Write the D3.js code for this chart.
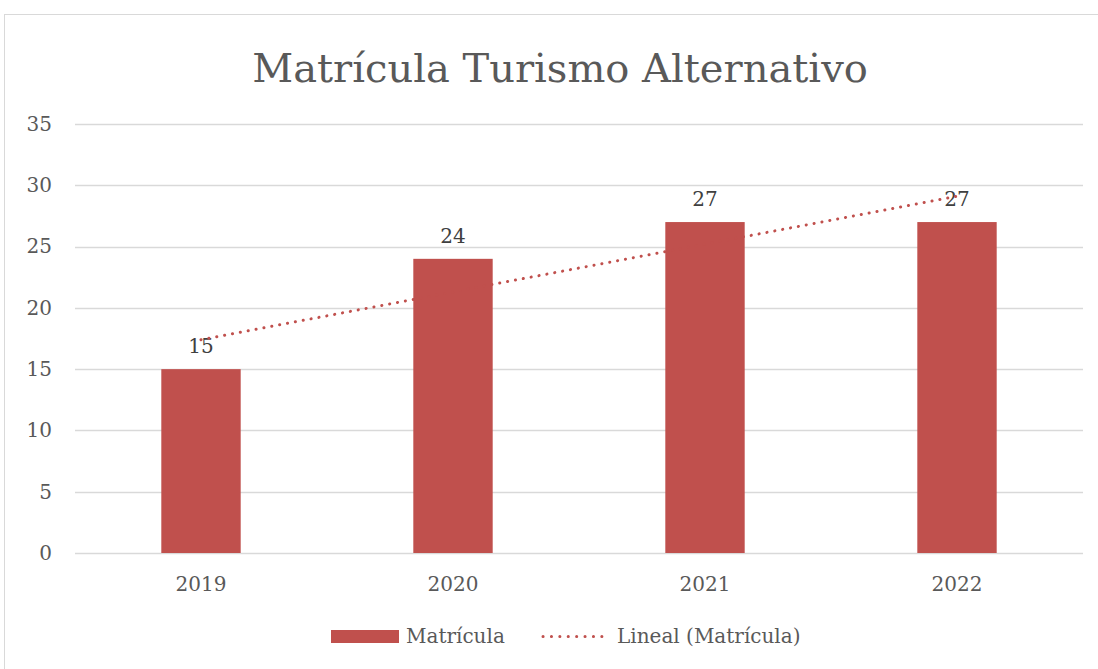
<!DOCTYPE html>
<html lang="es">
<head>
  <meta charset="UTF-8">
  <title>Matrícula Turismo Alternativo</title>
  <style>
    body { margin: 0; background: #fff; }
    svg text { font-family: "DejaVu Serif", serif; fill: #595959; }
  </style>
</head>
<body>
<script src="https://d3js.org/d3.v7.min.js"></script>
<script>
  // Data
  const years = ['2019', '2020', '2021', '2022'];
  const matricula = [15, 24, 27, 27];
  const yTicks = [0, 5, 10, 15, 20, 25, 30, 35];

  const width = 1098;
  const height = 669;
  const plotLeft = 75, plotRight = 1083, plotTop = 124, plotBottom = 553;
  const barColor = '#C0504D';

  const svg = d3.select('body')
    .append('svg')
    .attr('width', width)
    .attr('height', height);

  // Chart frame
  svg.append('rect')
    .attr('x', 4.5).attr('y', 14.5)
    .attr('width', width).attr('height', height)
    .attr('fill', 'none')
    .attr('stroke', '#d9d9d9');

  // Title
  svg.append('text')
    .attr('x', 560).attr('y', 82)
    .attr('text-anchor', 'middle')
    .style('font-size', '40px')
    .text('Matrícula Turismo Alternativo');

  // Scales
  const x = d3.scaleBand()
    .domain(years)
    .range([plotLeft, plotRight])
    .paddingInner(0.685)
    .paddingOuter(0.3425);

  const y = d3.scaleLinear()
    .domain([0, 35])
    .range([plotBottom, plotTop]);

  // Gridlines
  svg.append('g')
    .selectAll('line')
    .data(yTicks)
    .enter()
    .append('line')
    .attr('x1', plotLeft).attr('x2', plotRight)
    .attr('y1', d => Math.round(y(d)) + 0.5)
    .attr('y2', d => Math.round(y(d)) + 0.5)
    .attr('stroke', '#d9d9d9')
    .attr('stroke-width', 1.3);

  // Y axis labels
  const yAxis = d3.axisLeft(y).tickValues(yTicks).tickSize(0).tickPadding(23);
  const gy = svg.append('g')
    .attr('transform', 'translate(' + plotLeft + ',0)')
    .call(yAxis);
  gy.select('.domain').remove();
  gy.selectAll('text')
    .style('font-size', '20px')
    .attr('fill', '#595959');

  // Bars
  svg.selectAll('rect.bar')
    .data(matricula)
    .enter()
    .append('rect')
    .attr('class', 'bar')
    .attr('x', (d, i) => x(years[i]))
    .attr('y', d => y(d))
    .attr('width', x.bandwidth())
    .attr('height', d => y(0) - y(d))
    .attr('fill', barColor);

  // X axis labels
  const xAxis = d3.axisBottom(x).tickSize(0).tickPadding(24);
  const gx = svg.append('g')
    .attr('transform', 'translate(0,' + plotBottom + ')')
    .call(xAxis);
  gx.select('.domain').remove();
  gx.selectAll('text')
    .style('font-size', '20px')
    .attr('fill', '#595959');

  // Data labels
  svg.selectAll('text.label')
    .data(matricula)
    .enter()
    .append('text')
    .attr('class', 'label')
    .attr('x', (d, i) => x(years[i]) + x.bandwidth() / 2)
    .attr('y', d => y(d) - 16)
    .attr('text-anchor', 'middle')
    .style('font-size', '20px')
    .style('fill', '#404040')
    .text(d => d);

  // Linear trendline (least squares on index 1..n)
  const n = matricula.length;
  const xs = d3.range(1, n + 1);
  const mx = d3.mean(xs), my = d3.mean(matricula);
  const slope = d3.sum(xs, (v, i) => (v - mx) * (matricula[i] - my)) / d3.sum(xs, v => (v - mx) * (v - mx));
  const intercept = my - slope * mx;
  const trend = years.map((yr, i) => [x(yr) + x.bandwidth() / 2, y(intercept + slope * (i + 1))]);

  svg.append('path')
    .datum(trend)
    .attr('d', d3.line())
    .attr('fill', 'none')
    .attr('stroke', barColor)
    .attr('stroke-width', 3)
    .attr('stroke-linecap', 'round')
    .attr('stroke-dasharray', '0.1 7.9');

  // Legend
  const legend = svg.append('g');
  legend.append('rect')
    .attr('x', 331).attr('y', 630)
    .attr('width', 68).attr('height', 13)
    .attr('fill', barColor);
  legend.append('text')
    .attr('x', 406).attr('y', 643)
    .style('font-size', '20px')
    .text('Matrícula');
  legend.append('line')
    .attr('x1', 543).attr('x2', 610)
    .attr('y1', 636.5).attr('y2', 636.5)
    .attr('stroke', barColor)
    .attr('stroke-width', 3)
    .attr('stroke-linecap', 'round')
    .attr('stroke-dasharray', '0.1 8.3');
  legend.append('text')
    .attr('x', 617).attr('y', 643)
    .style('font-size', '20px')
    .text('Lineal (Matrícula)');
</script>
</body>
</html>
